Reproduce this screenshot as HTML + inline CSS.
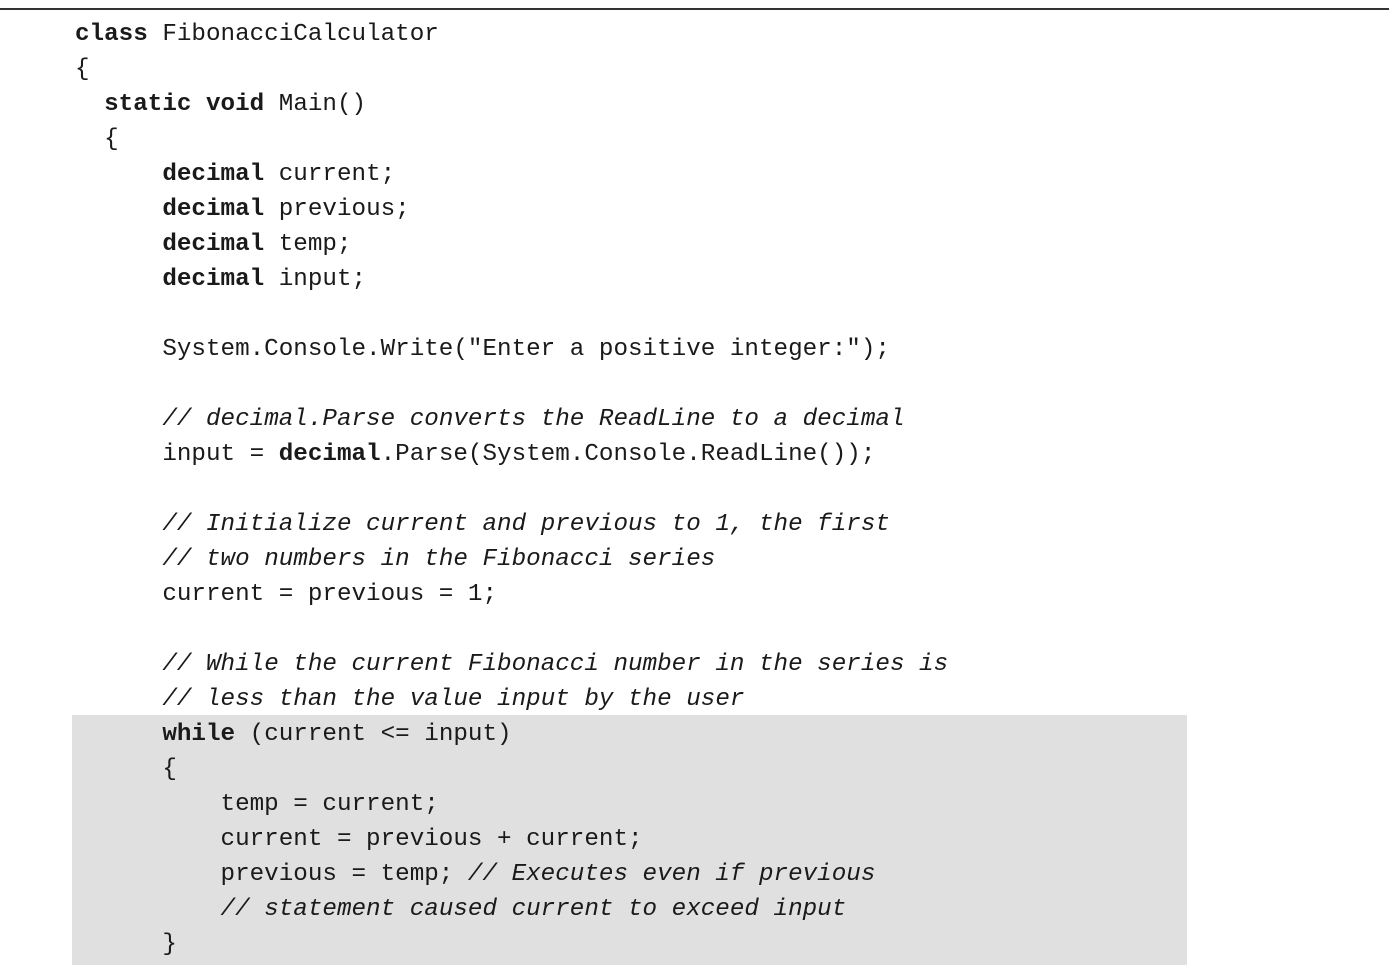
<!DOCTYPE html>
<html><head><meta charset="utf-8"><style>
body{margin:0;width:1389px;height:970px;background:#fff;position:relative;overflow:hidden}
.rule{position:absolute;left:0;top:8px;width:1389px;height:2px;background:#333}
.hl{position:absolute;left:72px;top:715px;width:1115px;height:250px;background:#e0e0e0}
pre{position:absolute;left:75px;top:17px;margin:0;font-family:"Liberation Mono",monospace;font-size:24.25px;line-height:35px;color:#1a1a1a}
b{font-weight:bold}i{font-style:italic}
</style></head><body>
<div class="rule"></div><div class="hl"></div>
<pre><b>class</b> FibonacciCalculator
{
  <b>static</b> <b>void</b> Main()
  {
      <b>decimal</b> current;
      <b>decimal</b> previous;
      <b>decimal</b> temp;
      <b>decimal</b> input;

      System.Console.Write("Enter a positive integer:");

      <i>// decimal.Parse converts the ReadLine to a decimal</i>
      input = <b>decimal</b>.Parse(System.Console.ReadLine());

      <i>// Initialize current and previous to 1, the first</i>
      <i>// two numbers in the Fibonacci series</i>
      current = previous = 1;

      <i>// While the current Fibonacci number in the series is</i>
      <i>// less than the value input by the user</i>
      <b>while</b> (current &lt;= input)
      {
          temp = current;
          current = previous + current;
          previous = temp; <i>// Executes even if previous</i>
          <i>// statement caused current to exceed input</i>
      }
</pre>
</body></html>
